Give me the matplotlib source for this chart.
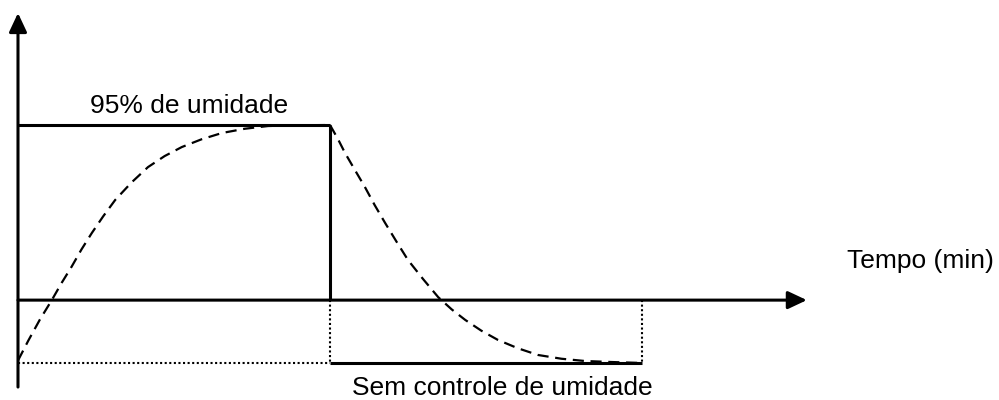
import matplotlib
matplotlib.use("Agg")
import matplotlib.pyplot as plt

plt.rcParams['font.family'] = ['Liberation Sans', 'DejaVu Sans']

# ---- data (arbitrary units: time in min, humidity level) ----
t_switch = 60          # end of controlled-humidity phase
t_end = 120            # end of uncontrolled phase
t_axis_end = 151.7     # tip of time axis
h_high = 95            # 95 % humidity level
h_low = 0              # uncontrolled level
h_axis = 25.1          # level where time axis crosses
h_axis_bottom = -9.6
h_axis_top = 139.7

rise_t = [0, 2.0, 4.2, 6.5, 8.4, 10.3, 12.2, 14.2, 16.4, 18.7, 21.8, 25.0, 28.2, 31.5, 35.3, 39.2, 43.6, 48.1, 53.8, 60]
rise_h = [1.0, 9.0, 17.3, 25.1, 32.0, 38.4, 45.3, 51.9, 58.6, 65.1, 72.0, 78.2, 82.6, 86.2, 89.3, 91.8, 93.5, 94.6, 94.9, 95]

fall_t = [60, 61.5, 62.9, 64.8, 66.7, 68.6, 70.6, 72.8, 75.0, 77.9, 80.8, 83.4, 86.0, 89.1, 92.3, 96.1, 100.0, 104.5, 109.0, 114.0, 120]
fall_h = [95, 89.5, 83.8, 77.0, 70.3, 63.0, 55.9, 48.4, 41.1, 33.5, 26.3, 21.4, 17.2, 12.9, 9.2, 5.9, 3.2, 1.7, 0.8, 0.4, 0]

label_high = "95% de umidade"
label_low = "Sem controle de umidade"
label_time = "Tempo (min)"

# ---- figure ----
fig = plt.figure(figsize=(9.99, 4.0), dpi=100)
ax = fig.add_axes([0, 0, 1, 1])
ax.set_xlim(-3.46, 188.65)
ax.set_ylim(-14.77, 144.9)
ax.axis('off')

k = 'black'
solid_lw = 2.2
dot_style = dict(color=k, lw=1.5, linestyle=(0, (1, 1.2)))

# axes arrows
astyle = '-|>,head_length=1.15,head_width=0.54'
ax.annotate('', xy=(0, h_axis_top), xytext=(0, h_axis_bottom),
            arrowprops=dict(arrowstyle=astyle, mutation_scale=10, lw=solid_lw,
                            color=k, shrinkA=0, shrinkB=0))
ax.annotate('', xy=(t_axis_end, h_axis), xytext=(0, h_axis),
            arrowprops=dict(arrowstyle=astyle, mutation_scale=10, lw=solid_lw,
                            color=k, shrinkA=0, shrinkB=0))

# controlled phase box
ax.plot([0, t_switch], [h_high, h_high], color=k, lw=solid_lw, solid_capstyle='butt')
ax.plot([t_switch, t_switch], [h_high, h_axis], color=k, lw=solid_lw, solid_capstyle='butt')

# uncontrolled phase
ax.plot([0, t_switch], [h_low, h_low], **dot_style)
ax.plot([t_switch, t_switch], [h_axis, h_low], **dot_style)
ax.plot([t_switch, t_end], [h_low, h_low], color=k, lw=solid_lw, solid_capstyle='butt')
ax.plot([t_end, t_end], [h_axis, h_low], **dot_style)

# dashed response curve
ax.plot(rise_t, rise_h, color=k, lw=1.6, linestyle=(0, (5, 3)))
ax.plot(fall_t, fall_h, color=k, lw=1.6, linestyle=(0, (5, 3)))

# texts
ax.text(13.85, 99.8, label_high, fontsize=19, va='baseline', ha='left')
ax.text(64.2, -12.8, label_low, fontsize=19, va='baseline', ha='left')
ax.text(159.4, 37.9, label_time, fontsize=19, va='baseline', ha='left')

fig.savefig("out.png", dpi=100)
